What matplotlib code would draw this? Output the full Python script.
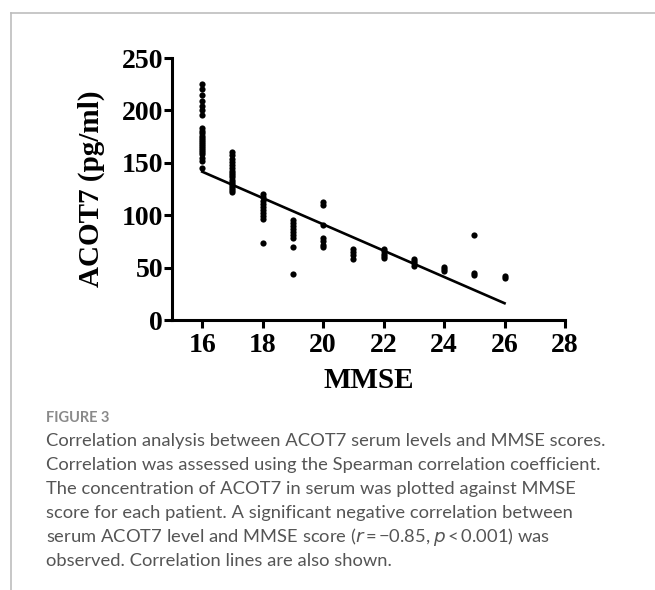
import matplotlib
matplotlib.use("Agg")
import matplotlib.pyplot as plt
from matplotlib.lines import Line2D

# ---- data ----
mmse_16 = [225, 220, 215, 209, 204, 200, 196, 183, 180, 178, 176, 174, 172, 170,
           168, 166, 164, 162, 160, 158, 155, 152, 145]
mmse_17 = [160, 157, 154, 151, 148, 145, 142, 140, 138, 136, 134, 132, 130, 128,
           126, 124, 122]
mmse_18 = [120, 117, 114, 111, 108, 105, 102, 99, 96, 73]
mmse_19 = [95, 93, 90, 87, 84, 81, 78, 70, 44]
mmse_20 = [113, 110, 91, 78, 75, 72, 70]
mmse_21 = [68, 65, 62, 58]
mmse_22 = [68, 66, 63, 61, 59]
mmse_23 = [58, 56, 54, 52]
mmse_24 = [51, 49, 47]
mmse_25 = [81, 45, 43]
mmse_26 = [42, 40]
groups = {16: mmse_16, 17: mmse_17, 18: mmse_18, 19: mmse_19, 20: mmse_20,
          21: mmse_21, 22: mmse_22, 23: mmse_23, 24: mmse_24, 25: mmse_25,
          26: mmse_26}

fit_x = [16, 26]
fit_y = [141.5, 16]

x_ticks = [16, 18, 20, 22, 24, 26, 28]
y_ticks = [0, 50, 100, 150, 200, 250]

caption_title = "FIGURE 3"
caption_lines = [
    "Correlation analysis between ACOT7 serum levels and MMSE scores.",
    "Correlation was assessed using the Spearman correlation coefficient.",
    "The concentration of ACOT7 in serum was plotted against MMSE",
    "score for each patient. A significant negative correlation between",
    "serum ACOT7 level and MMSE score ($\\mathit{r}$\u2009=\u2009\u22120.85, $\\mathit{p}$\u2009<\u20090.001) was",
    "observed. Correlation lines are also shown.",
]

W, H = 655, 590
fig = plt.figure(figsize=(W / 100, H / 100), dpi=100)

# frame lines (top and left)
fig.add_artist(Line2D([11 / W, 1.0], [1 - 13 / H, 1 - 13 / H], color="#bdbdbd", lw=1.2))
fig.add_artist(Line2D([11 / W, 11 / W], [0, 1 - 13 / H], color="#bdbdbd", lw=1.2))

ax = fig.add_axes([172 / W, 1 - 320 / H, (565 - 172) / W, (320 - 58) / H])
for xv, ys in groups.items():
    ax.scatter([xv] * len(ys), ys, s=20, color="black", zorder=3, linewidths=0)
ax.plot(fit_x, fit_y, color="black", lw=1.9, zorder=2)

ax.set_xlim(15, 28)
ax.set_ylim(0, 250)
ax.set_xticks(x_ticks)
ax.set_yticks(y_ticks)
for s in ["top", "right"]:
    ax.spines[s].set_visible(False)
for s in ["left", "bottom"]:
    ax.spines[s].set_linewidth(2.2)
ax.tick_params(axis="both", direction="out", length=5.5, width=2.2, pad=1.0)
serif = "Liberation Serif"
for lab in ax.get_xticklabels() + ax.get_yticklabels():
    lab.set_fontfamily(serif)
    lab.set_fontweight("bold")
    lab.set_fontsize(20)
ax.tick_params(axis="x", pad=4)
ax.set_xlabel("MMSE", fontfamily=serif, fontweight="bold", fontsize=21, labelpad=6)
ax.set_ylabel("ACOT7 (pg/ml)", fontfamily=serif, fontweight="bold", fontsize=21)
ax.yaxis.set_label_coords(-0.17, 0.5)

cap_font = "Lato"
fig.text(46 / W, 1 - 418 / H, caption_title, fontfamily=cap_font, fontsize=10.5,
         fontweight="bold", color="#8a8a8a", va="center", ha="left")
for i, line in enumerate(caption_lines):
    fig.text(46 / W, 1 - (441 + 24 * i) / H, line, fontfamily=cap_font,
             fontsize=13.2, color="#555555", va="center", ha="left")

fig.savefig("out.png", dpi=100)
